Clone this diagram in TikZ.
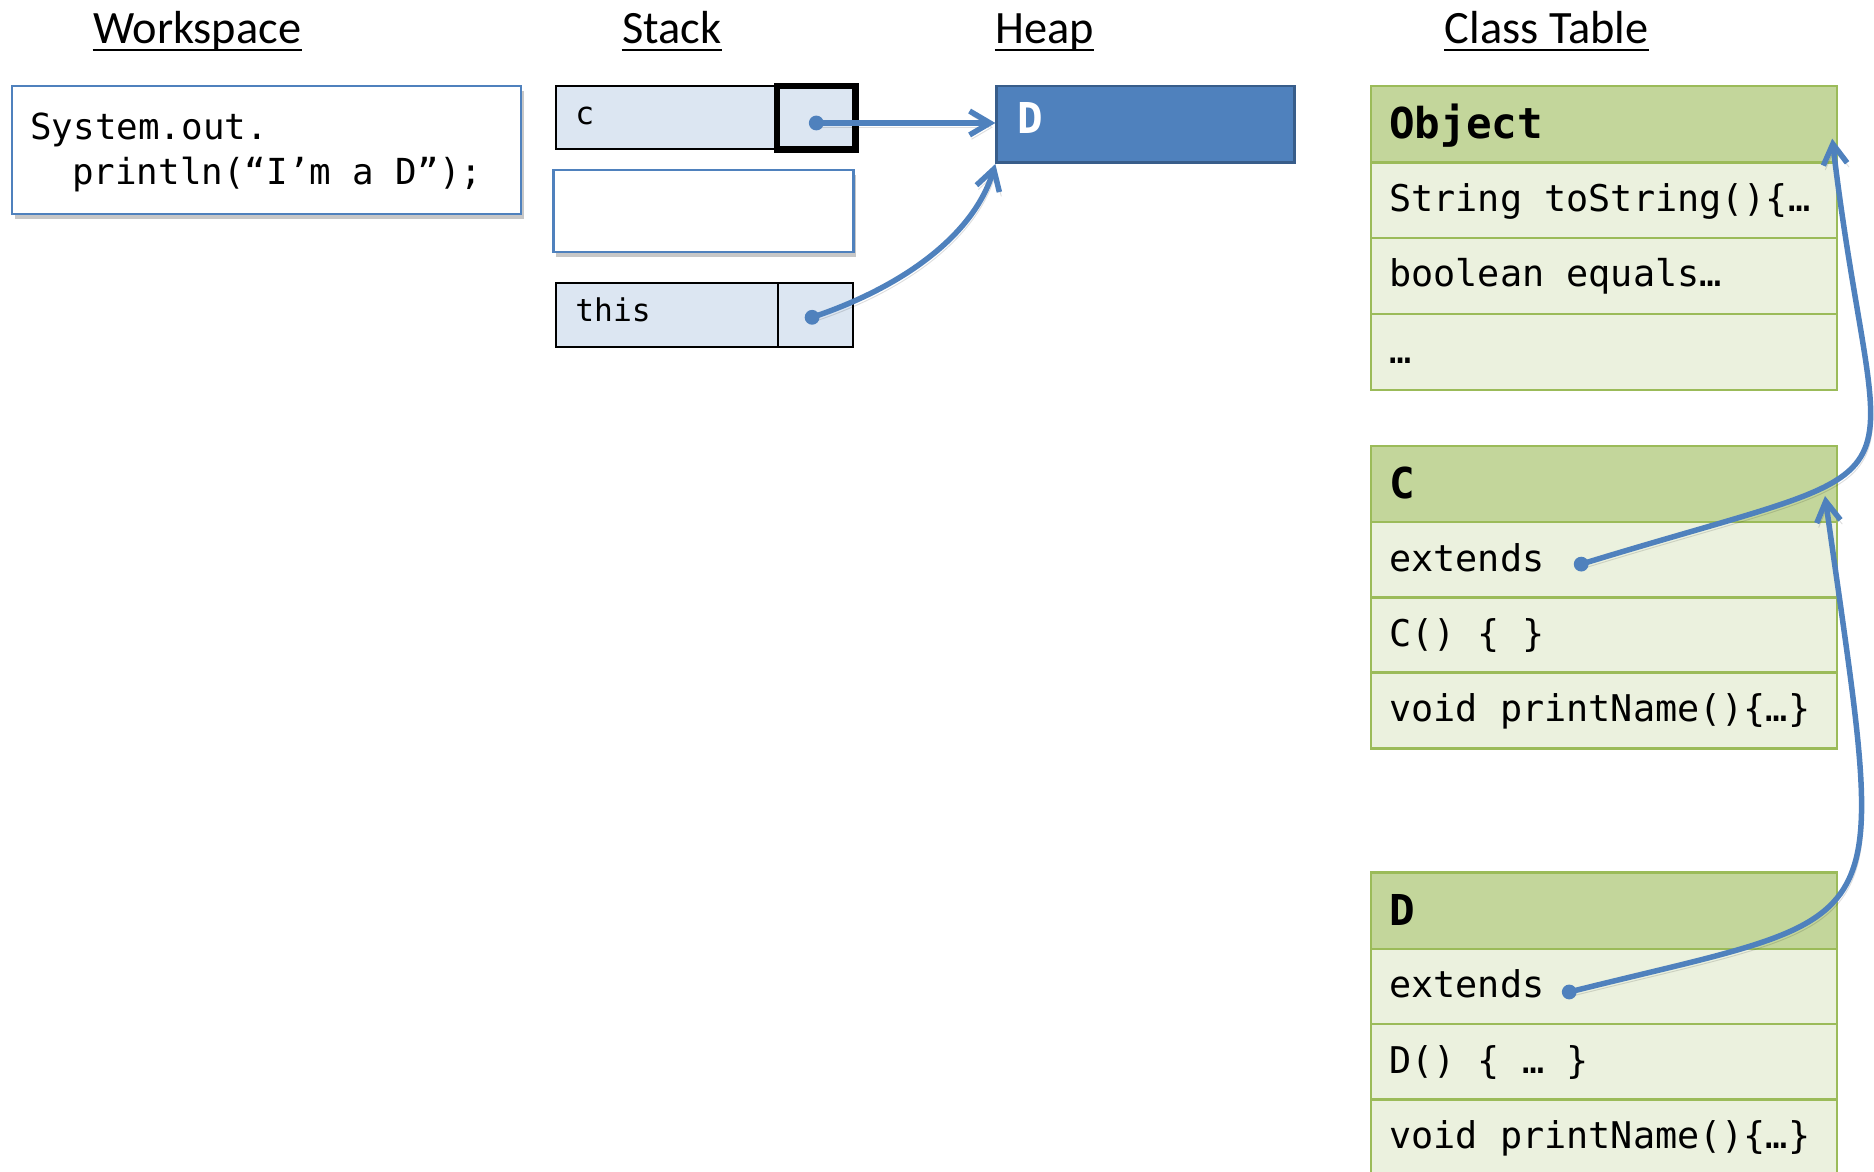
\documentclass[tikz,border=0pt]{standalone}
\usepackage{fontspec}
\setmainfont{Carlito}
\newfontfamily\codefont{DejaVu Sans Mono}
\usetikzlibrary{arrows.meta,shadows}

\definecolor{ptrblue}{HTML}{4F81BD}
\definecolor{heapedge}{HTML}{385D8A}
\definecolor{stackfill}{HTML}{DCE6F2}
\definecolor{hdrgreen}{HTML}{C3D69B}
\definecolor{rowgreen}{HTML}{EBF1DE}
\definecolor{clsedge}{HTML}{9BBB59}

\tikzset{
  boxshadow/.style={drop shadow={shadow xshift=1.2pt, shadow yshift=-2.2pt, opacity=0.22, fill=black}},
  title/.style={inner sep=0pt, anchor=base, font=\fontsize{19.4}{23}\selectfont},
  wscode/.style={inner sep=0pt, anchor=base west, font=\codefont\fontsize{15}{18}\selectfont},
  code/.style={inner sep=0pt, anchor=base west, font=\codefont\fontsize{15.4}{18.5}\selectfont},
  smallcode/.style={inner sep=0pt, anchor=base west, font=\codefont\fontsize{13.1}{15.7}\selectfont},
  boldcode/.style={inner sep=0pt, anchor=base west, font=\codefont\bfseries\fontsize{17.8}{21}\selectfont},
  wsbox/.style={draw=ptrblue, line width=1pt, fill=white, inner sep=0pt, boxshadow},
  cell/.style={draw=black, line width=0.9pt, fill=stackfill, inner sep=0pt, minimum height=26.5pt},
  ptrcell/.style={cell, line width=2.8pt},
  heapobj/.style={draw=heapedge, line width=1.2pt, fill=ptrblue, inner sep=0pt},
  clsbox/.style={draw=clsedge, line width=1pt, inner sep=0pt, minimum width=195pt},
  clshdr/.style={clsbox, fill=hdrgreen, minimum height=32pt},
  clsrow/.style={clsbox, fill=rowgreen, minimum height=31.7pt},
  ptrshadow/.style={preaction={draw=black, opacity=0.13, transform canvas={shift={(0.8pt,-1.8pt)}}}},
  ptr/.style={draw=ptrblue, line width=2.3pt, ptrshadow, -{Straight Barb[length=8.5pt,width=10pt]}},
  ptrdot/.style={fill=ptrblue},
}

\begin{document}
\begin{tikzpicture}[x=0.5pt,y=-0.5pt]
\useasboundingbox (0,0) rectangle (1568,980);
\clip (0,0) rectangle (1568,980);

% column titles
\node[title] (tws) at (165,36) {Workspace};
\node[title] (tst) at (562,36) {Stack};
\node[title] (thp) at (874,36) {Heap};
\node[title] (tct) at (1294,36) {Class Table};
\foreach \t in {tws,tst,thp,tct}
  \draw[line width=1pt] ([yshift=-3pt]\t.base west) -- ([yshift=-3pt]\t.base east);

% workspace
\node[wsbox, minimum width=213pt, minimum height=53.5pt] (ws) at (223,125.5) {};
\node[wscode] (ws1) at (25,116.4) {System.out.};
\node[wscode] (ws2) at (60,154) {println(“I’m a D”);};

% stack
\node[cell, minimum width=92.5pt] (cname) at (557.5,98.5) {};
\node[ptrcell, minimum width=33pt] (cptr) at (683,98.5) {};
\node[smallcode] (clbl) at (481,104.5) {c};
\node[wsbox, minimum width=125.5pt, minimum height=34.5pt] (frame) at (588.5,176.5) {};
\node[cell, minimum width=93pt] (thisname) at (558,263.5) {};
\node[cell, minimum width=31.5pt] (thisptr) at (682.5,263.5) {};
\node[smallcode] (thislbl) at (481,269) {this};

% heap
\node[heapobj, minimum width=124.5pt, minimum height=32pt] (heap) at (958.5,104) {};
\node[boldcode, text=white] (heaplbl) at (851,112) {D};

% class table: Object
\node[clshdr] (objhdr) at (1342,104) {};
\node[clsrow] (obj1) at (1342,167.5) {};
\node[clsrow] (obj2) at (1342,231) {};
\node[clsrow] (obj3) at (1342,294.5) {};
\node[boldcode] at (1162,116) {Object};
\node[code] at (1162,177) {String toString()\{…};
\node[code] at (1162,240) {boolean equals…};
\node[code] at (1162,304) {…};

% class table: C
\node[clshdr] (chdr) at (1342,405) {};
\node[clsrow] (c1) at (1342,468.5) {};
\node[clsrow] (c2) at (1342,531.5) {};
\node[clsrow] (c3) at (1342,594.5) {};
\node[boldcode] at (1162,417) {C};
\node[code] (cextends) at (1162,478) {extends};
\node[code] at (1162,541) {C() \{ \}};
\node[code] at (1162,604) {void printName()\{…\}};

% class table: D
\node[clshdr] (dhdr) at (1342,762) {};
\node[clsrow] (d1) at (1342,825.5) {};
\node[clsrow] (d2) at (1342,888.5) {};
\node[clsrow] (d3) at (1342,951.5) {};
\node[boldcode] at (1162,774) {D};
\node[code] (dextends) at (1162,835) {extends};
\node[code] at (1162,898) {D() \{ … \}};
\node[code] at (1162,961) {void printName()\{…\}};

% pointer ends
\coordinate (cdot) at ([yshift=-2.2pt]cptr.center);
\coordinate (thisdot) at ([xshift=-1.5pt,yshift=-1pt]thisptr.center);
\coordinate (cext) at (1323,472);
\coordinate (objtip) at (1533,116);
\coordinate (dext) at (1313,830);
\coordinate (ctip) at (1527,415);

% references
\draw[ptr] (cdot) -- (cdot -| heap.west);
\draw[ptr] (thisdot) .. controls +(75,-25) and +(-18,60) .. (heap.south west);
\draw[ptr] (cext) .. controls +(310,-95) and +(38,320) .. (objtip);
\draw[ptr] (dext) .. controls +(280,-70) and +(53,380) .. (ctip);

\foreach \p in {cdot, thisdot, cext, dext}
  \fill[ptrdot] (\p) circle[radius=3.1pt];
\end{tikzpicture}
\end{document}
